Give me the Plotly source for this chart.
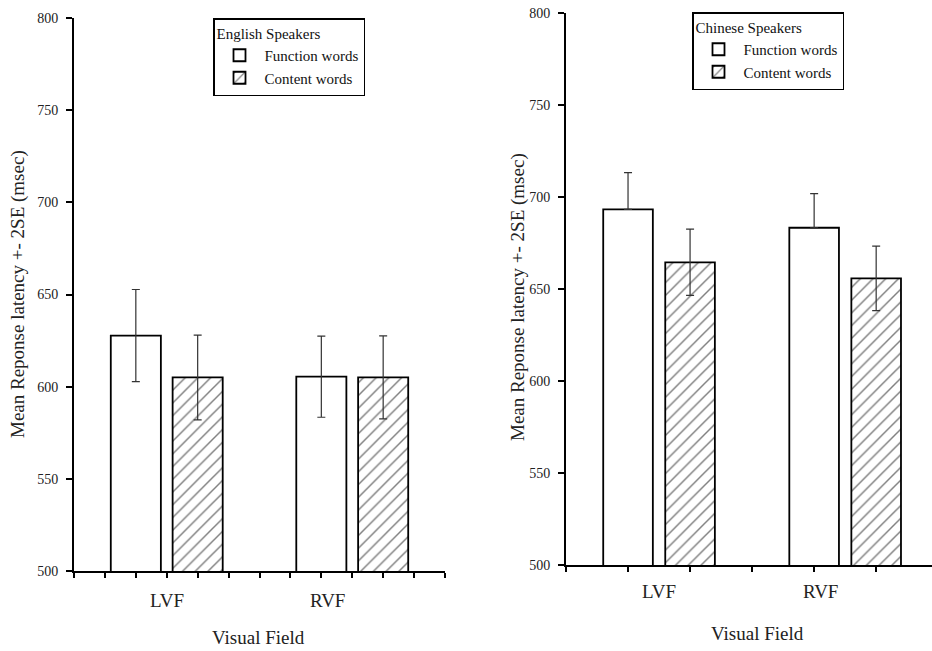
import plotly.graph_objects as go

# ---------------- data ----------------
categories = ["LVF", "RVF"]

eng_function = [627.7, 605.4]
eng_function_err = [25.0, 22.0]
eng_content = [605.0, 605.0]
eng_content_err = [23.0, 22.5]

chi_function = [693.3, 683.3]
chi_function_err_up = [20.0, 18.5]
chi_content = [664.5, 655.8]
chi_content_err = [18.0, 17.5]

y_ticks = [500, 550, 600, 650, 700, 750, 800]

# ---------------- layout constants ----------------
FONT = "Times New Roman"
W, H = 932, 651

def px_x(p):
    return p / W

def px_y(p):
    return 1 - p / H

# left panel geometry (units along x: group i centre = 3 + 6 i)
L_group = [3 + 6 * i for i in range(len(categories))]
L_off, L_w = 1.0, 1.62
L_label_x = [3.0, 8.2]
# right panel geometry (group i centre = 1.5 + 3 i)
R_group = [1.5 + 3 * i for i in range(len(categories))]
R_off, R_w = 0.5, 0.8
R_label_x = [1.5, 4.1]

fig = go.Figure()

bar_line = dict(color="black", width=1.8)
err_style = dict(color="#333333", thickness=1.2, width=4)
hatch = dict(shape="/", fgcolor="black", bgcolor="white", size=9, solidity=0.16)

# English speakers
fig.add_trace(go.Bar(
    x=[g - L_off for g in L_group], y=eng_function, width=L_w,
    name="Function words", marker=dict(color="white", line=bar_line),
    error_y=dict(type="data", array=eng_function_err, visible=True, **err_style),
    xaxis="x", yaxis="y", legend="legend"))
fig.add_trace(go.Bar(
    x=[g + L_off for g in L_group], y=eng_content, width=L_w,
    name="Content words", marker=dict(color="white", line=bar_line, pattern=hatch),
    error_y=dict(type="data", array=eng_content_err, visible=True, **err_style),
    xaxis="x", yaxis="y", legend="legend"))

# Chinese speakers
fig.add_trace(go.Bar(
    x=[g - R_off for g in R_group], y=chi_function, width=R_w,
    name="Function words", marker=dict(color="white", line=bar_line),
    error_y=dict(type="data", symmetric=False, array=chi_function_err_up,
                 arrayminus=[0] * len(chi_function), visible=True, **err_style),
    xaxis="x2", yaxis="y2", legend="legend2"))
fig.add_trace(go.Bar(
    x=[g + R_off for g in R_group], y=chi_content, width=R_w,
    name="Content words", marker=dict(color="white", line=bar_line, pattern=hatch),
    error_y=dict(type="data", array=chi_content_err, visible=True, **err_style),
    xaxis="x2", yaxis="y2", legend="legend2"))

tickfont = dict(family=FONT, size=14, color="#222222")

yax = dict(range=[500, 800], tickvals=y_ticks, ticks="outside", ticklen=6,
           tickwidth=1.5, tickcolor="black", showline=True, linecolor="black",
           linewidth=2, showgrid=False, zeroline=False, tickfont=tickfont,
           ticklabelstandoff=5, automargin=False, fixedrange=True)

def xax(rng, n, dom, anchor):
    return dict(range=rng, domain=dom, anchor=anchor, tickvals=list(range(0, n + 1)),
                showticklabels=False, ticks="outside", ticklen=5, tickwidth=1.5,
                tickcolor="black", showline=True, linecolor="black", linewidth=2,
                showgrid=False, zeroline=False, automargin=False)

lblfont = dict(family=FONT, size=19, color="#222")
titlefont = dict(family=FONT, size=19, color="#222")
C = dict(xanchor="center", yanchor="middle", showarrow=False)
annotations = []
for lab, xv in zip(categories, L_label_x):
    annotations.append(dict(x=xv, y=px_y(600), xref="x", yref="paper", text=lab,
                            font=lblfont, **C))
for lab, xv in zip(categories, R_label_x):
    annotations.append(dict(x=xv, y=px_y(591), xref="x2", yref="paper", text=lab,
                            font=lblfont, **C))
# axis titles
ytitle = "Mean Reponse latency +- 2SE (msec)"
annotations += [
    dict(x=px_x(258), y=px_y(637), xref="paper", yref="paper", text="Visual Field",
         font=lblfont, **C),
    dict(x=px_x(757), y=px_y(633), xref="paper", yref="paper", text="Visual Field",
         font=lblfont, **C),
    dict(x=px_x(18), y=px_y(294), xref="paper", yref="paper", text=ytitle, textangle=-90,
         font=titlefont, **C),
    dict(x=px_x(518), y=px_y(297), xref="paper", yref="paper", text=ytitle, textangle=-90,
         font=titlefont, **C),
]

legfont = dict(family=FONT, size=15, color="#111")

fig.update_layout(
    width=W, height=H, margin=dict(l=0, r=0, t=0, b=0),
    paper_bgcolor="white", plot_bgcolor="white",
    barmode="overlay", showlegend=True,
    xaxis=xax([0, 12], 12, [px_x(74), px_x(445)], "y"),
    yaxis=dict(domain=[px_y(571), px_y(18)], anchor="x", **yax),
    xaxis2=xax([0, 5.9], 5, [px_x(566), 1.0], "y2"),
    yaxis2=dict(domain=[px_y(565), px_y(13)], anchor="x2", **yax),
    legend=dict(title=dict(text="English Speakers", font=legfont), font=legfont,
                x=px_x(213), y=px_y(18), xanchor="left", yanchor="top",
                bordercolor="black", borderwidth=1.5, bgcolor="white",
                tracegroupgap=0, itemwidth=40),
    legend2=dict(title=dict(text="Chinese Speakers", font=legfont), font=legfont,
                 x=px_x(692), y=px_y(12), xanchor="left", yanchor="top",
                 bordercolor="black", borderwidth=1.5, bgcolor="white",
                 tracegroupgap=0, itemwidth=40),
    annotations=annotations,
)

fig.write_html("out.html")
